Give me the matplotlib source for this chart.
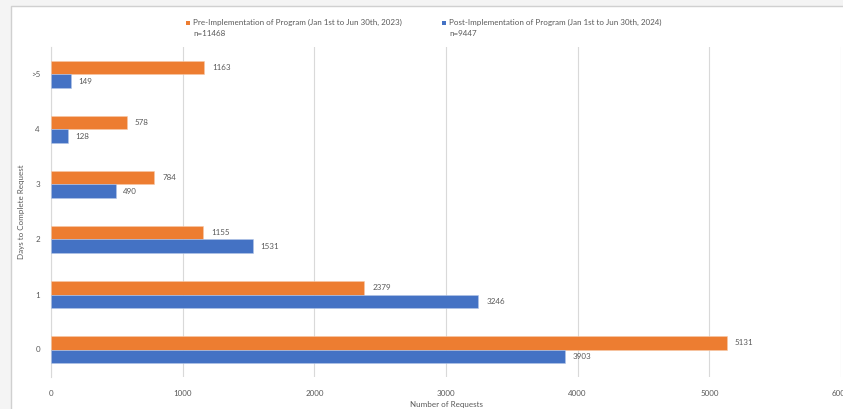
import matplotlib
matplotlib.use("Agg")
import matplotlib.pyplot as plt
from matplotlib.patches import Rectangle
import numpy as np

categories = ["0", "1", "2", "3", "4", ">5"]
pre_values = [5131, 2379, 1155, 784, 578, 1163]
post_values = [3903, 3246, 1531, 490, 128, 149]
pre_label = "Pre-Implementation of Program (Jan 1st to Jun 30th, 2023)"
pre_n = "n=11468"
post_label = "Post-Implementation of Program (Jan 1st to Jun 30th, 2024)"
post_n = "n=9447"
x_ticks = [0, 1000, 2000, 3000, 4000, 5000, 6000]

ORANGE = "#ED7D31"
BLUE = "#4472C4"
TXT = "#595959"
GRID = "#D9D9D9"

plt.rcParams['font.family'] = ['Lato', 'DejaVu Sans']

W, H = 843, 409
fig = plt.figure(figsize=(W / 100, H / 100), dpi=100)
fig.patch.set_facecolor("#F4F4F4")
# chart frame
frame = Rectangle((11 / W, -0.05), 1.0, 1 - 6 / H + 0.05, transform=fig.transFigure,
                  facecolor="white", edgecolor="#D0D0D0", linewidth=1.0, zorder=0)
fig.patches.append(frame)

ax = fig.add_axes([51 / W, 1 - 377 / H, (841 - 51) / W, (377 - 47) / H])
ax.set_zorder(5)
ax.set_facecolor("none")

y = np.arange(len(categories))
h = 0.25
ax.barh(y + h / 2, pre_values, height=h, color=ORANGE, edgecolor="#F8C9A8", linewidth=0.4, zorder=3)
ax.barh(y - h / 2, post_values, height=h, color=BLUE, edgecolor="#B4C6E7", linewidth=0.4, zorder=3)

fs = 5.8
for yi, v in zip(y, pre_values):
    ax.text(v + 60, yi + h / 2, str(v), va="center", ha="left", fontsize=fs, color=TXT)
for yi, v in zip(y, post_values):
    ax.text(v + 60, yi - h / 2, str(v), va="center", ha="left", fontsize=fs, color=TXT)

ax.set_xlim(0, 6000)
ax.set_ylim(-0.5, 5.5)
ax.set_xticks(x_ticks)
ax.set_xticklabels([str(t) for t in x_ticks])
ax.set_yticks(y)
ax.set_yticklabels(categories)
ax.tick_params(axis="both", length=0, labelsize=fs, labelcolor=TXT)
ax.tick_params(axis="x", pad=9)
ax.tick_params(axis="y", pad=8)
ax.grid(axis="x", color=GRID, linewidth=0.8, zorder=0)
for s in ["top", "right", "bottom"]:
    ax.spines[s].set_visible(False)
ax.spines["left"].set_color(GRID)
ax.spines["left"].set_linewidth(0.8)

ax.set_xlabel("Number of Requests", fontsize=fs, color=TXT)
ax.xaxis.set_label_coords(0.5, -(401 - 377) / 330)
ax.set_ylabel("Days to Complete Request", fontsize=fs, color=TXT)
ax.yaxis.set_label_coords(-(51 - 25) / 790, 0.5)

# legend
fig.patches.append(Rectangle((186 / W, 1 - 25 / H), 4 / W, 4 / H, transform=fig.transFigure,
                             facecolor=ORANGE, edgecolor="none", zorder=6))
fig.text(193 / W, 1 - 22 / H, pre_label, fontsize=fs, color=TXT, va="center", ha="left")
fig.text(193 / W, 1 - 34 / H, pre_n, fontsize=fs, color=TXT, va="center", ha="left")
fig.patches.append(Rectangle((442 / W, 1 - 25 / H), 4 / W, 4 / H, transform=fig.transFigure,
                             facecolor=BLUE, edgecolor="none", zorder=6))
fig.text(449 / W, 1 - 22 / H, post_label, fontsize=fs, color=TXT, va="center", ha="left")
fig.text(449 / W, 1 - 34 / H, post_n, fontsize=fs, color=TXT, va="center", ha="left")

fig.savefig("out.png", dpi=100, facecolor=fig.get_facecolor())
